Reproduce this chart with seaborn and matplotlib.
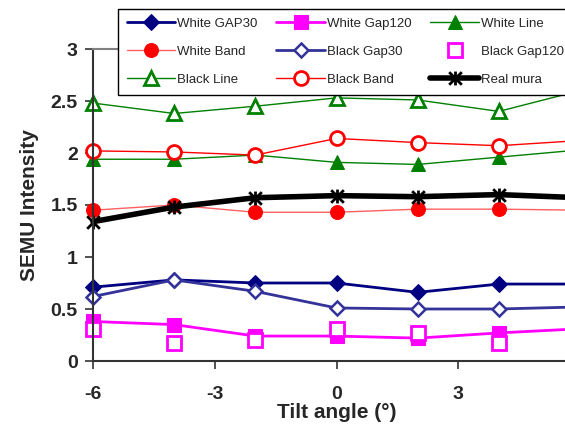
import matplotlib
matplotlib.use("Agg")
import matplotlib.pyplot as plt
from matplotlib.path import Path
import seaborn as sns
import numpy as np
import pandas as pd

tilt = [-6, -4, -2, 0, 2, 4, 6]
white_gap30 = [0.71, 0.78, 0.75, 0.75, 0.66, 0.74, 0.74]
white_gap120 = [0.38, 0.35, 0.24, 0.24, 0.22, 0.27, 0.31]
white_line = [1.94, 1.94, 1.98, 1.91, 1.89, 1.96, 2.03]
white_band = [1.45, 1.50, 1.43, 1.43, 1.46, 1.46, 1.45]
black_gap30 = [0.62, 0.78, 0.67, 0.51, 0.50, 0.50, 0.52]
black_gap120 = [0.31, 0.17, 0.20, 0.31, 0.27, 0.17, 0.25]
black_line = [2.48, 2.38, 2.45, 2.53, 2.51, 2.40, 2.60]
black_band = [2.02, 2.01, 1.98, 2.14, 2.10, 2.07, 2.12]
real_mura = [1.34, 1.48, 1.57, 1.59, 1.58, 1.60, 1.57]

xticks = [-6, -3, 0, 3]
yticks = [0, 0.5, 1, 1.5, 2, 2.5, 3]
ytick_labels = ["0", "0.5", "1", "1.5", "2", "2.5", "3"]

sns.set_theme(style="white")
plt.rcParams["font.family"] = ["Liberation Sans", "DejaVu Sans"]
plt.rcParams["axes.unicode_minus"] = False

# Excel-style star marker: an X plus a vertical bar
star = Path([(-1, -1), (1, 1), (-1, 1), (1, -1), (0, -1.1), (0, 1.1)],
            [Path.MOVETO, Path.LINETO, Path.MOVETO, Path.LINETO, Path.MOVETO, Path.LINETO])

W, H = 565, 424
fig = plt.figure(figsize=(W / 100, H / 100), dpi=100)
ax = fig.add_axes([93 / W, 1 - 361 / H, (580 - 93) / W, (361 - 49) / H])

series = [
    ("White GAP30", white_gap30, dict(color="#000080", lw=2.0, marker="D", ms=8,
                                     mfc="#000080", mec="#000080")),
    ("White Gap120", white_gap120, dict(color="#FF00FF", lw=2.0, marker="s", ms=10,
                                       mfc="#FF00FF", mec="#FF00FF")),
    ("White Line", white_line, dict(color="#008000", lw=1.0, marker="^", ms=10,
                                   mfc="#008000", mec="#008000")),
    ("White Band", white_band, dict(color="#FF6060", lw=1.0, marker="o", ms=10,
                                   mfc="#FF0000", mec="#FF0000")),
    ("Black Gap30", black_gap30, dict(color="#333399", lw=2.0, marker="D", ms=7.5,
                                     mfc="white", mec="#333399", mew=1.8)),
    ("Black Gap120", black_gap120, dict(color="#FF00FF", lw=0, ls="none", marker="s", ms=10,
                                       mfc="white", mec="#FF00FF", mew=2)),
    ("Black Line", black_line, dict(color="#008000", lw=1.0, marker="^", ms=10,
                                   mfc="white", mec="#008000", mew=2)),
    ("Black Band", black_band, dict(color="#FF0000", lw=1.0, marker="o", ms=10,
                                   mfc="white", mec="#FF0000", mew=2)),
    ("Real mura", real_mura, dict(color="black", lw=4.0, marker=star, ms=10,
                                 mfc="black", mec="black", mew=2.0)),
]

handles = {}
for name, vals, kw in series:
    df = pd.DataFrame({"tilt": tilt, "val": vals})
    before = len(ax.lines)
    sns.lineplot(data=df, x="tilt", y="val", ax=ax, label=name, legend=False,
                 estimator=None, sort=False, clip_on=False, **kw)
    handles[name] = ax.lines[before]

ax.set_xlim(-6, 6)
ax.set_ylim(0, 3)
ax.set_xticks(xticks)
ax.set_xticklabels([str(t) for t in xticks])
ax.set_yticks(yticks)
ax.set_yticklabels(ytick_labels)
ax.tick_params(axis="both", which="both", direction="out", length=6, width=1.2,
               color="#333333", labelsize=14, left=True, bottom=True)
ax.tick_params(axis="x", pad=12)
ax.tick_params(axis="y", pad=5)
for lab in ax.get_xticklabels() + ax.get_yticklabels():
    lab.set_fontweight("bold")
ax.set_xlabel("Tilt angle (°)", fontsize=15, fontweight="bold", labelpad=0)
ax.set_ylabel("SEMU Intensity", fontsize=15, fontweight="bold", labelpad=8)

for s in ["left", "bottom"]:
    ax.spines[s].set_color("#333333")
    ax.spines[s].set_linewidth(1.5)
ax.spines["top"].set_color("#808080")
ax.spines["top"].set_linewidth(1.5)
ax.spines["right"].set_color("#808080")
ax.grid(False)

order = ["White GAP30", "White Band", "Black Line",
         "White Gap120", "Black Gap30", "Black Band",
         "White Line", "Black Gap120", "Real mura"]
leg = fig.legend([handles[n] for n in order], order, ncol=3,
                 loc="upper left", bbox_to_anchor=(118 / W, 1 - 9 / H),
                 borderaxespad=0, fancybox=False, framealpha=1,
                 edgecolor="black", fontsize=9.5, handlelength=3.7,
                 handletextpad=0.15, columnspacing=1.4, labelspacing=1.2,
                 borderpad=0.65, markerscale=1.0)
leg.get_frame().set_linewidth(1.0)

fig.savefig("out.png", dpi=100)
